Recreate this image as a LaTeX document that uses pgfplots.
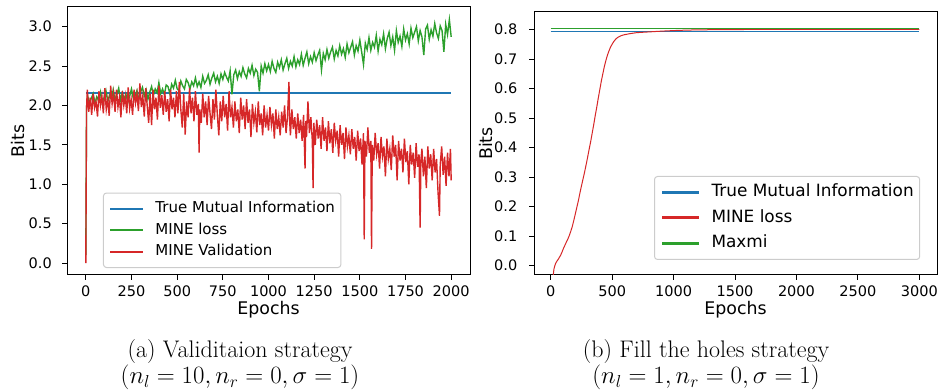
\documentclass[border=0pt]{standalone}
\usepackage{pgfplots}
\pgfplotsset{compat=1.18}
\usepackage{fontspec}
\usetikzlibrary{calc}
\newfontfamily\dejavu{DejaVu Sans}
\definecolor{tabblue}{HTML}{1F77B4}
\definecolor{tabgreen}{HTML}{2CA02C}
\definecolor{tabred}{HTML}{D62728}
\definecolor{legedge}{HTML}{CCCCCC}

\pgfplotsset{
 mplstyle/.style={
  scale only axis,
  axis line style={line width=1pt},
  tick align=outside,
  tick pos=left,
  major tick length=5pt,
  every tick/.style={black, line width=1pt},
  /pgf/number format/assume math mode=true,
  tick label style={font=\dejavu\fontsize{14.5}{17}\selectfont},
  xticklabel style={inner sep=0pt, anchor=north, yshift=-5.7pt},
  label style={font=\dejavu\fontsize{17.4}{20}\selectfont},
  xlabel style={at={(axis description cs:0.5,0)}, anchor=base, yshift=-40pt},
  legend cell align=left,
 }
}

\begin{document}
\begin{tikzpicture}
\useasboundingbox (0,0) rectangle (939pt,390pt);

% ---------------- left plot ----------------
\begin{axis}[mplstyle,
  at={(67pt,115pt)}, anchor=south west,
  width=403pt, height=268pt,
  xmin=-103, xmax=2103, ymin=-0.152, ymax=3.25,
  xtick={0,250,...,2000},
  ytick={0,0.5,...,3.0},
  xticklabel style={/pgf/number format/1000 sep={}},
  yticklabel style={inner sep=0pt, anchor=east, xshift=-10pt,
    /pgf/number format/.cd, fixed, fixed zerofill, precision=1},
  xlabel={Epochs}, ylabel={Bits},
  ylabel style={at={($(axis description cs:0,0.5)+(-42pt,0pt)$)}, anchor=base},
  legend style={at={(axis description cs:0.0893,0.026)}, anchor=south west,
    draw=legedge, line width=1pt, rounded corners=3pt, fill=white,
    fill opacity=0.8, text opacity=1, draw opacity=1,
    inner xsep=6pt, inner ysep=8.5pt, row sep=7pt, column sep=11pt,
    font=\dejavu\fontsize{15}{18}\selectfont,
    nodes={inner sep=0pt, text height=11pt, text depth=3.5pt}},
  legend image code/.code={\draw[#1, line width=2pt] (0pt,0pt) -- (33pt,0pt);},
]
\addplot[tabblue, line width=1.3pt] coordinates {(0,2.16) (2000,2.16)};
\addlegendentry{True Mutual Information}

\addplot[tabgreen, line width=1.4pt] coordinates {
(0,0.10) (4,1.98) (10,2.12) (20,2.02) (30,2.09) (40,2.15) (50,2.03) (60,2.11) (70,2.06) (80,2.17)
(90,2.04) (100,2.10) (110,2.19) (120,2.05) (130,2.13) (140,2.08) (150,2.20) (160,2.06) (170,2.14) (180,2.22)
(190,2.07) (200,2.16) (210,2.08) (220,2.14) (230,2.04) (240,2.12) (250,2.21) (260,2.09) (270,2.12) (280,2.19)
(290,2.08) (300,2.17) (310,2.23) (320,2.12) (330,2.20) (340,2.08) (350,2.17) (360,2.24) (370,2.13) (380,2.21)
(390,2.16) (400,2.29) (410,2.15) (420,2.21) (430,2.14) (440,2.26) (450,2.24) (460,2.15) (470,2.27) (480,2.22)
(490,2.32) (500,2.21) (510,2.19) (520,2.31) (530,2.25) (540,2.21) (550,2.33) (560,2.29) (570,2.21) (580,2.30)
(590,2.25) (600,2.35) (610,2.24) (620,2.30) (630,2.23) (640,2.37) (650,2.28) (660,2.32) (670,2.39) (680,2.27)
(690,2.35) (700,2.41) (710,2.30) (720,2.37) (730,2.28) (740,2.40) (750,2.33) (760,2.42) (770,2.36) (780,2.31)
(790,2.44) (800,2.14) (810,2.39) (820,2.45) (830,2.34) (840,2.43) (850,2.37) (860,2.48) (870,2.40) (880,2.35)
(890,2.47) (900,2.41) (910,2.51) (920,2.38) (930,2.46) (940,2.42) (950,2.18) (960,2.50) (970,2.41) (980,2.53)
(990,2.44) (1000,2.52) (1010,2.43) (1020,2.56) (1030,2.47) (1040,2.42) (1050,2.55) (1060,2.48) (1070,2.58) (1080,2.45)
(1090,2.53) (1100,2.60) (1110,2.47) (1120,2.56) (1130,2.50) (1140,2.62) (1150,2.49) (1160,2.58) (1170,2.52) (1180,2.65)
(1190,2.51) (1200,2.60) (1210,2.68) (1220,2.53) (1230,2.62) (1240,2.55) (1250,2.67) (1260,2.57) (1270,2.64) (1280,2.70)
(1290,2.45) (1300,2.66) (1310,2.58) (1320,2.71) (1330,2.60) (1340,2.68) (1350,2.74) (1360,2.59) (1370,2.70) (1380,2.63)
(1390,2.76) (1400,2.65) (1410,2.72) (1420,2.61) (1430,2.78) (1440,2.67) (1450,2.74) (1460,2.81) (1470,2.64) (1480,2.76)
(1490,2.69) (1500,2.83) (1510,2.68) (1520,2.52) (1530,2.79) (1540,2.71) (1550,2.86) (1560,2.70) (1570,2.80) (1580,2.74)
(1590,2.89) (1600,2.69) (1610,2.84) (1620,2.77) (1630,2.91) (1640,2.72) (1650,2.85) (1660,2.93) (1670,2.76) (1680,2.87)
(1690,2.70) (1700,2.95) (1710,2.80) (1720,2.88) (1730,2.75) (1740,2.97) (1750,2.83) (1760,2.91) (1770,2.78) (1780,2.98)
(1790,2.86) (1800,2.93) (1810,3.00) (1820,2.82) (1830,2.95) (1840,2.87) (1850,2.64) (1860,2.97) (1870,3.02) (1880,2.84)
(1890,2.96) (1900,2.88) (1910,3.04) (1920,2.92) (1930,2.85) (1940,3.01) (1950,2.95) (1960,2.68) (1970,3.03) (1980,2.90)
(1990,3.09) (2000,2.87)
};
\addlegendentry{MINE loss}

\addplot[tabred, line width=1.4pt] coordinates {
(0,0.00) (4,1.95) (8,2.20) (16,1.92) (24,2.10) (32,1.88) (40,2.15) (48,1.97) (56,2.05) (64,1.86)
(72,2.18) (80,2.00) (88,2.12) (96,1.90) (104,2.22) (112,1.95) (120,2.08) (128,1.87) (136,2.25) (144,2.02)
(152,2.15) (160,1.92) (168,2.20) (176,1.98) (184,2.10) (192,1.85) (200,2.18) (208,2.00) (216,2.12) (224,1.90)
(232,2.23) (240,1.96) (248,2.08) (256,1.88) (264,2.20) (272,2.03) (280,2.15) (288,1.93) (296,2.28) (304,1.98)
(312,2.12) (320,1.86) (328,2.22) (336,2.00) (344,1.78) (352,2.15) (360,1.75) (368,2.20) (376,1.95) (384,2.10)
(392,1.82) (400,2.25) (408,1.97) (416,2.13) (424,1.88) (432,2.18) (440,1.92) (448,2.08) (456,1.80) (464,2.20)
(472,1.95) (480,2.10) (488,1.85) (496,2.18) (504,1.90) (512,2.30) (520,1.95) (528,1.72) (536,2.15) (544,1.63)
(552,2.05) (560,1.85) (568,2.22) (576,1.90) (584,2.10) (592,1.80) (600,2.18) (608,1.88) (616,2.02) (620,1.40)
(624,1.95) (632,1.78) (640,2.15) (648,1.85) (656,2.05) (664,1.75) (672,2.12) (680,1.90) (688,1.70) (696,2.08)
(704,1.82) (712,2.20) (720,1.88) (728,1.62) (736,2.05) (744,1.80) (752,2.12) (760,1.85) (768,2.02) (776,1.68)
(784,2.18) (792,1.85) (800,1.98) (808,1.72) (816,2.05) (824,1.80) (832,1.95) (840,1.65) (848,2.10) (856,1.82)
(864,2.00) (872,1.70) (880,2.08) (888,1.78) (896,1.95) (904,1.60) (912,2.02) (920,1.78) (928,1.92) (936,1.66)
(944,2.05) (952,1.75) (960,1.90) (968,1.62) (976,2.00) (984,1.72) (992,1.88) (1000,1.68) (1008,1.98) (1016,1.75)
(1024,1.90) (1032,1.58) (1040,1.95) (1048,1.70) (1056,1.85) (1064,1.62) (1072,1.92) (1080,1.72) (1088,2.00) (1096,1.65)
(1104,1.85) (1112,2.30) (1116,1.80) (1120,1.62) (1128,1.95) (1136,1.70) (1144,1.85) (1152,1.58) (1160,1.90) (1168,1.65)
(1176,1.82) (1184,1.55) (1192,1.88) (1200,1.20) (1204,1.80) (1208,1.60) (1216,2.05) (1224,1.65) (1232,1.85) (1240,1.55)
(1244,0.95) (1248,1.78) (1256,1.50) (1264,1.82) (1272,1.58) (1280,1.75) (1288,1.45) (1296,1.85) (1304,1.55) (1312,1.72)
(1320,1.42) (1328,1.80) (1336,1.52) (1344,1.70) (1352,1.40) (1360,1.78) (1368,1.55) (1376,1.68) (1384,1.35) (1392,1.75)
(1400,1.50) (1408,1.65) (1416,1.32) (1424,1.72) (1432,1.48) (1440,1.62) (1448,1.38) (1456,1.70) (1464,1.45) (1472,1.60)
(1480,1.30) (1488,1.68) (1496,1.42) (1504,1.58) (1512,1.25) (1520,1.65) (1524,0.30) (1528,1.55) (1536,1.35) (1544,1.72)
(1552,1.40) (1560,1.55) (1564,0.18) (1568,1.50) (1576,1.30) (1584,1.65) (1592,1.38) (1600,1.52) (1608,1.20) (1616,1.60)
(1624,1.35) (1632,1.48) (1640,1.10) (1648,1.58) (1656,1.32) (1664,1.45) (1672,1.18) (1680,1.62) (1688,1.35) (1696,1.50)
(1704,1.05) (1712,1.55) (1720,1.30) (1728,1.45) (1736,1.15) (1744,1.58) (1752,1.28) (1760,1.42) (1768,1.00) (1776,1.50)
(1784,1.25) (1792,1.40) (1800,1.08) (1808,1.52) (1816,1.22) (1824,1.38) (1830,0.45) (1834,1.30) (1840,1.45) (1848,1.10)
(1856,1.35) (1864,0.95) (1872,1.48) (1880,1.20) (1888,1.38) (1896,1.05) (1904,1.45) (1912,1.15) (1920,1.32) (1928,0.90)
(1936,0.60) (1940,1.25) (1948,1.48) (1956,1.12) (1964,1.35) (1972,0.98) (1980,1.40) (1988,1.10) (1996,1.45) (2000,1.05)
};
\addlegendentry{MINE Validation}
\end{axis}

% ---------------- right plot ----------------
\begin{axis}[mplstyle,
  at={(534pt,115pt)}, anchor=south west,
  width=403pt, height=263pt,
  xmin=-136, xmax=3144, ymin=-0.0315, ymax=0.86,
  xtick={0,500,...,3000},
  ytick={0,0.1,...,0.8},
  xticklabel style={/pgf/number format/1000 sep={}},
  yticklabel style={inner sep=0pt, anchor=east, xshift=-11.5pt,
    /pgf/number format/.cd, fixed, fixed zerofill, precision=1},
  xlabel={Epochs}, ylabel={Bits},
  ylabel style={at={($(axis description cs:0,0.5)+(-42pt,0pt)$)}, anchor=base},
  legend style={at={(axis description cs:0.2978,0.0571)}, anchor=south west,
    draw=legedge, line width=1pt, rounded corners=3pt, fill=white,
    fill opacity=0.8, text opacity=1, draw opacity=1,
    inner xsep=6pt, inner ysep=7.75pt, row sep=9pt, column sep=11pt,
    font=\dejavu\fontsize{16.9}{20}\selectfont,
    nodes={inner sep=0pt, text height=12.5pt, text depth=4pt}},
  legend image code/.code={\draw[#1, line width=3pt] (0pt,0pt) -- (37pt,0pt);},
]
\addplot[tabblue, line width=1.4pt] coordinates {(0,0.7945) (3000,0.7945)};
\addlegendentry{True Mutual Information}
\addplot[tabred, line width=1pt] coordinates {
(20,-0.035) (26,-0.012) (32,-0.002) (40,0.008) (50,0.015) (60,0.021) (70,0.028) (80,0.035)
(90,0.044) (100,0.055) (112,0.066) (125,0.078) (137,0.088) (150,0.101) (162,0.115) (175,0.132)
(187,0.152) (200,0.175) (212,0.197) (225,0.220) (237,0.245) (250,0.270) (262,0.292) (275,0.316)
(287,0.340) (300,0.367) (312,0.393) (325,0.420) (337,0.448) (350,0.478) (362,0.508) (375,0.538)
(387,0.568) (400,0.598) (412,0.626) (425,0.652) (437,0.676) (450,0.697) (462,0.714) (475,0.729)
(487,0.741) (500,0.751) (512,0.759) (525,0.766) (537,0.771) (550,0.775) (575,0.780) (600,0.783)
(650,0.787) (700,0.790) (800,0.7925) (900,0.795) (1000,0.797) (1100,0.7985) (1200,0.7995)
(1400,0.8003) (1600,0.8007) (2000,0.801) (2500,0.801) (3000,0.801)
};
\addlegendentry{MINE loss}
\addplot[tabgreen, line width=1.4pt] coordinates {(0,0.8045) (3000,0.8045)};
\addlegendentry{Maxmi}
\end{axis}

% ---------------- captions ----------------
\node[font=\fontsize{24}{28}\selectfont, anchor=base, inner sep=0pt] at (240pt,32.5pt) {(a) Validitaion strategy};
\node[font=\fontsize{24}{28}\selectfont, anchor=base, inner sep=0pt] at (240pt,6.5pt) {$(n_l = 10, n_r = 0, \sigma = 1)$};
\node[font=\fontsize{24}{28}\selectfont, anchor=base, inner sep=0pt] at (706pt,32.5pt) {(b) Fill the holes strategy};
\node[font=\fontsize{24}{28}\selectfont, anchor=base, inner sep=0pt] at (706pt,6.5pt) {$(n_l = 1, n_r = 0, \sigma = 1)$};
\end{tikzpicture}
\end{document}
